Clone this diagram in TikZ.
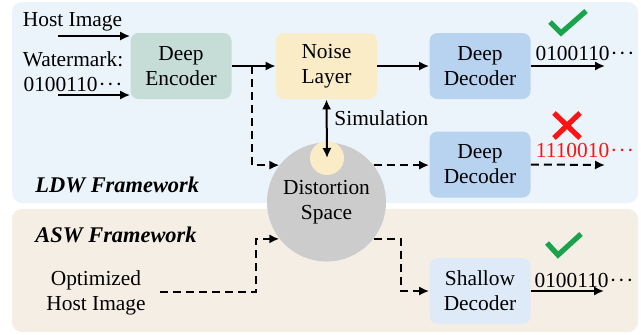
\documentclass[tikz,border=0pt]{standalone}
\usepackage{fontspec}
\setmainfont{Liberation Serif}
\usetikzlibrary{arrows,arrows.meta}
\definecolor{fondoldw}{RGB}{235,243,251}
\definecolor{fondoasw}{RGB}{245,238,229}
\definecolor{verdenc}{RGB}{197,221,214}
\definecolor{gialloru}{RGB}{251,236,200}
\definecolor{bludec}{RGB}{184,211,240}
\definecolor{bluchiaro}{RGB}{222,234,247}
\definecolor{grigiods}{RGB}{204,204,204}
\definecolor{verdeok}{RGB}{26,163,76}
\definecolor{rossono}{RGB}{250,20,20}
\newcommand{\puntini}{\kern0.5pt\textperiodcentered\kern0.6pt\textperiodcentered\kern0.6pt\textperiodcentered}
\tikzstyle{pannello} = [rectangle, rounded corners=5pt, draw=none]
\tikzstyle{blocco} = [rectangle, rounded corners=4pt, minimum width=50.5pt,
    minimum height=33pt, align=center, inner sep=0pt]
\tikzstyle{testo} = [align=center, inner sep=0pt]
\tikzstyle{titolo} = [anchor=west, inner sep=0pt, font=\fontsize{11.2}{13}\selectfont\bfseries\itshape]
\tikzstyle{freccia} = [->, >={Latex[length=5pt,width=4.6pt]}, line width=1pt]
\tikzstyle{tratto} = [freccia, dash pattern=on 4pt off 2.5pt]

\begin{document}
\begin{tikzpicture}[x=0.5pt, y=-0.5pt, font=\fontsize{10.7}{12.5}\selectfont]
  \useasboundingbox (0,0) rectangle (641,334);
  % pannelli
  \fill[pannello, fondoldw] (12,2) rectangle (638,203);
  \fill[pannello, fondoasw] (12,209) rectangle (638,332);
  \node[titolo] (ldw) at (35,185) {LDW Framework};
  \node[titolo] (asw) at (35,235) {ASW Framework};

  % blocchi
  \node[blocco, fill=verdenc] (enc) at (181,66) {Deep\\Encoder};
  \node[blocco, fill=gialloru] (noise) at (326.5,66) {Noise\\Layer};
  \node[blocco, fill=bludec] (dec1) at (480,66) {Deep\\Decoder};
  \node[blocco, fill=bludec] (dec2) at (480,164.5) {Deep\\Decoder};
  \node[blocco, fill=bluchiaro] (sd) at (480,291) {Shallow\\Decoder};
  \node[circle, fill=grigiods, minimum size=59.5pt, inner sep=0pt, align=center]
    (ds) at (326.5,202) {Distortion\\Space};
  \node[circle, fill=gialloru, minimum size=17pt, inner sep=0pt] (ys) at (327,158) {};

  % testi
  \node[testo] (host) at (72.5,22) {Host Image};
  \node[testo] (wm) at (73,72) {Watermark:\\0100110\puntini};
  \node[testo] (opt) at (96,293) {Optimized\\Host Image};
  \node[testo, anchor=west] (sim) at (334,118) {Simulation};
  \node[testo] (out1) at (585,53) {0100110\puntini};
  \node[testo, text=rossono] (out2) at (585,150) {1110010\puntini};
  \node[testo] (out3) at (584,280) {0100110\puntini};

  % ingressi e uscite
  \coordinate (hin) at (58,36);
  \coordinate (win) at (58,95);
  \coordinate (br) at (252,66);
  \coordinate (oin) at (160,292);
  \coordinate (fine1) at (605,66);
  \coordinate (fine2) at (605,165);
  \coordinate (fine3) at (604,291);

  % frecce
  \draw[freccia] (hin) -- (hin -| enc.west);
  \draw[freccia] (win) -- (win -| enc.west);
  \draw[freccia] (enc.east) -- (noise.west);
  \draw[freccia] (noise.east) -- (dec1.west);
  \draw[freccia] (dec1.east) -- (fine1);
  \draw[freccia, <->] (noise.south) -- (ys.center);
  \draw[tratto] (br) |- (ds.142);
  \draw[tratto] (ds.38) -- (ds.38 -| dec2.west);
  \draw[tratto] (dec2.east) -- (fine2);
  \draw[tratto] (oin) -- ++(96,0) |- (ds.218);
  \draw[tratto] (ds.322) -- ++(27,0) |- (sd.west);
  \draw[freccia] (sd.east) -- (fine3);

  % segni
  \draw[verdeok, line width=2.6pt] (550,22) -- (561,33) -- (586,11);
  \draw[verdeok, line width=2.6pt] (547,243) -- (558,255) -- (581,234);
  \draw[rossono, line width=2.6pt] (554,113) -- (580,138) (580,113) -- (554,138);
\end{tikzpicture}
\end{document}
